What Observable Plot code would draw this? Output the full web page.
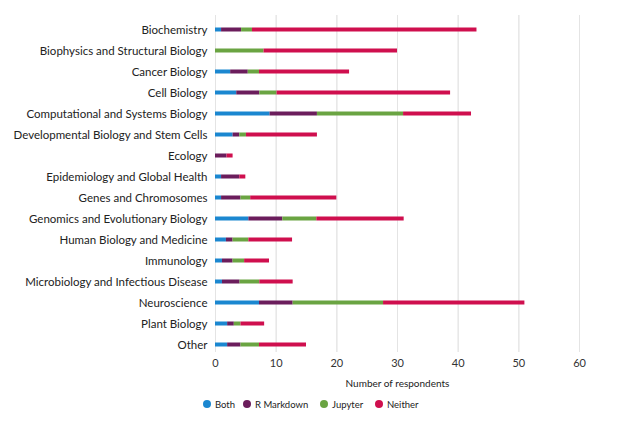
<!DOCTYPE html>
<html>
<head>
<meta charset="utf-8">
<script src="https://cdn.jsdelivr.net/npm/d3@7"></script>
<script src="https://cdn.jsdelivr.net/npm/@observablehq/plot@0.6"></script>
<style>
  html, body { margin: 0; padding: 0; background: #fff; }
  body { width: 617px; height: 425px; overflow: hidden; font-family: Lato, "Open Sans", sans-serif; }
  #legend { position: relative; height: 14px; margin-top: 5px; font-size: 9.5px; color: #222; }
  #legend .item { position: absolute; top: 0; display: flex; align-items: center; height: 14px; }
  #legend .dot { width: 8px; height: 8px; border-radius: 50%; margin-right: 4px; }
</style>
</head>
<body>
<div id="chart"></div>
<div id="legend"></div>
<script>
const categories = [
  "Biochemistry",
  "Biophysics and Structural Biology",
  "Cancer Biology",
  "Cell Biology",
  "Computational and Systems Biology",
  "Developmental Biology and Stem Cells",
  "Ecology",
  "Epidemiology and Global Health",
  "Genes and Chromosomes",
  "Genomics and Evolutionary Biology",
  "Human Biology and Medicine",
  "Immunology",
  "Microbiology and Infectious Disease",
  "Neuroscience",
  "Plant Biology",
  "Other"
];
const seriesNames = ["Both", "R Markdown", "Jupyter", "Neither"];
const seriesColors = ["#1b87d0", "#6b1d5c", "#6aa442", "#cf0f4e"];

const both      = [1,   0,  2.5,  3.5, 9,    2.9, 0,   1, 1,   5.5, 1.8,  1.15, 1.15, 7.25, 2,   2];
const rMarkdown = [3.3, 0,  2.9,  3.8, 7.8,  1.1, 1.9, 3, 3.2, 5.6, 1.1,  1.75, 2.9,  5.55, 1.1, 2.2];
const jupyter   = [1.8, 8,  1.85, 2.85,14.2, 1.1, 0,   0, 1.6, 5.6, 2.6,  1.9,  3.25, 14.9, 1.1, 3.05];
const neither   = [37,  22, 14.85,28.6,11.2, 11.7,1.0, 1, 14.2,14.4,7.2,  4.1,  5.5,  23.3, 3.9, 7.75];

const xTicks = [0, 10, 20, 30, 40, 50, 60];
const xLabel = "Number of respondents";

const seriesValues = [both, rMarkdown, jupyter, neither];
const data = [];
categories.forEach((c, i) => {
  seriesNames.forEach((s, j) => {
    data.push({category: c, series: s, value: seriesValues[j][i]});
  });
});

const chart = Plot.plot({
  width: 617,
  height: 392,
  marginTop: 15,
  marginBottom: 40,
  marginLeft: 215,
  marginRight: 38,
  style: {fontFamily: "Lato, 'Open Sans', sans-serif", fontSize: "11px", color: "#222", background: "#fff"},
  x: {domain: [0, 60], ticks: xTicks, grid: true, label: xLabel},
  y: {domain: categories, range: [18.5, 355.8], padding: 0, label: null},
  color: {domain: seriesNames, range: seriesColors},
  marks: [
    Plot.gridX(xTicks, {stroke: "#e4e4e4", strokeOpacity: 1}),
    Plot.barX(data, Plot.stackX({
      y: "category", x: "value", fill: "series",
      insetTop: 8.5, insetBottom: 8.5
    })),
    Plot.axisX({ticks: xTicks, tickSize: 0, tickPadding: 7, fontSize: 11, color: "#333", label: null}),
    Plot.axisX({ticks: [], tickSize: 0, fontSize: 10, color: "#222",
      label: xLabel, labelAnchor: "center", labelArrow: "none", labelOffset: 34}),
    Plot.axisY({tickSize: 0, tickPadding: 8, fontSize: 11.5, label: null})
  ]
});
document.getElementById("chart").appendChild(chart);

const legendLeft = [203, 243, 320, 375];
const legend = document.getElementById("legend");
seriesNames.forEach((s, j) => {
  const item = document.createElement("div");
  item.className = "item";
  item.style.left = legendLeft[j] + "px";
  const dot = document.createElement("span");
  dot.className = "dot";
  dot.style.background = seriesColors[j];
  const txt = document.createElement("span");
  txt.textContent = s;
  item.appendChild(dot);
  item.appendChild(txt);
  legend.appendChild(item);
});
</script>
</body>
</html>
